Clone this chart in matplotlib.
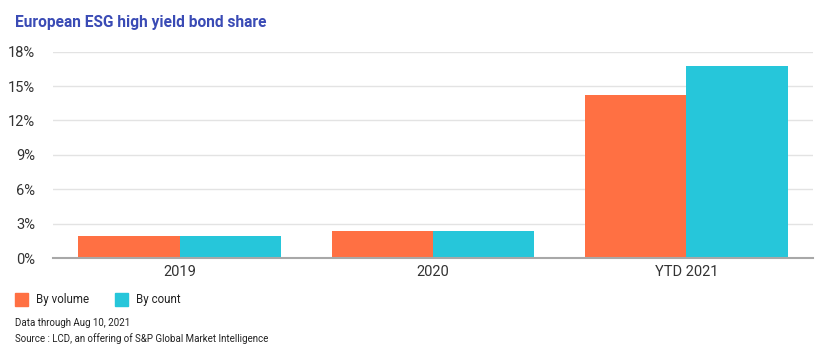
import matplotlib.pyplot as plt
import numpy as np
from matplotlib.patches import Rectangle

# data
categories = ["2019", "2020", "YTD 2021"]
by_volume = [1.9, 2.35, 14.25]
by_count = [1.9, 2.35, 16.75]
yticks = [0, 3, 6, 9, 12, 15, 18]

orange = "#ff7043"
cyan = "#26c6da"

plt.rcParams['font.family'] = ['Roboto', 'DejaVu Sans']

fig = plt.figure(figsize=(8.31, 3.58), dpi=100)
ax = fig.add_axes([53/831, 1 - 258/358, 760/831, (258 - 51.7)/358])

x = np.arange(len(categories))
w = 0.4
ax.bar(x - w/2, by_volume, w, color=orange, zorder=2)
ax.bar(x + w/2, by_count, w, color=cyan, zorder=2)

ax.set_xlim(-0.5, len(categories) - 0.5)
ax.set_ylim(0, 18)
ax.set_yticks(yticks)
ax.set_yticklabels([f"{t}%" for t in yticks])
ax.set_xticks(x)
ax.set_xticklabels(categories)
ax.grid(axis='y', color='#e3e3e3', linewidth=1, zorder=0)
for s in ['top', 'right', 'left']:
    ax.spines[s].set_visible(False)
ax.spines['bottom'].set_color('#a8a8a8')
ax.spines['bottom'].set_linewidth(1.5)
ax.spines['bottom'].set_zorder(3)
ax.tick_params(axis='both', length=0, labelsize=10.5, colors='#333333')
ax.tick_params(axis='y', pad=13)
ax.tick_params(axis='x', pad=5)

fig.text(15/831, 1 - 22/358, "European ESG high yield bond share", fontsize=11.2,
         fontweight='bold', color='#3a4bb5', va='center', ha='left')

# legend
for xs, label, c in [(15, "By volume", orange), (115, "By count", cyan)]:
    fig.patches.append(Rectangle((xs/831, 1 - 306/358), 13/831, 13/358,
                                 transform=fig.transFigure, color=c))
    fig.text((xs + 21)/831, 1 - 299.5/358, label, fontsize=8.3, color='#222222',
             va='center', ha='left')

fig.text(15/831, 1 - 323/358, "Data through Aug 10, 2021", fontsize=7,
         color='#222222', va='center', ha='left')
fig.text(15/831, 1 - 339/358, "Source : LCD, an offering of S&P Global Market Intelligence",
         fontsize=7, color='#222222', va='center', ha='left')

fig.savefig("out.png", dpi=100)
